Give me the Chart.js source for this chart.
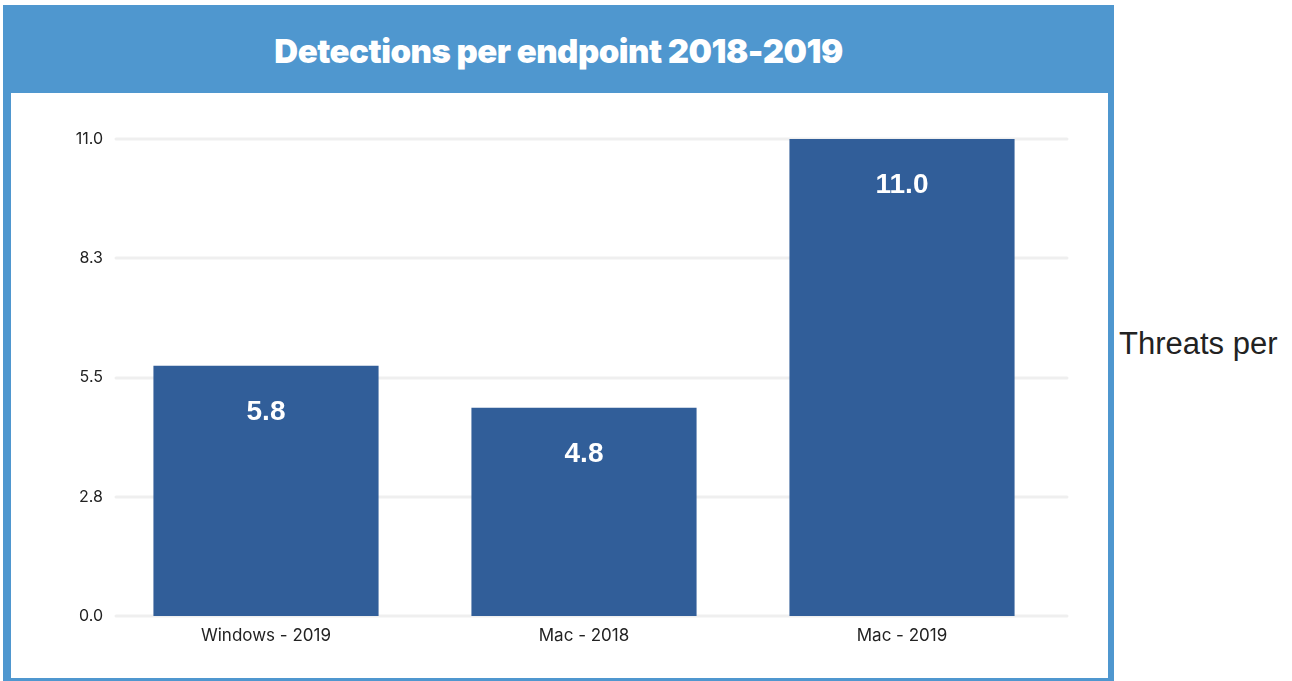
<!DOCTYPE html>
<html>
<head>
<meta charset="utf-8">
<script src="https://cdn.jsdelivr.net/npm/chart.js@4"></script>
<style>
  body { margin: 0; background: #fff; width: 1292px; height: 681px; overflow: hidden; position: relative; }
  .frame { position: absolute; left: 3px; top: 5px; width: 1111px; height: 690px; background: #4f97cf; }
  .frame h1 {
    margin: 0; height: 88px; line-height: 92px; text-align: center; color: #fff;
    font-family: Inter, sans-serif; font-weight: 900; font-size: 33px; letter-spacing: -0.5px;
  }
  .panel { position: absolute; left: 8px; top: 88px; width: 1097px; height: 585px; background: #fff; }
  .side { position: absolute; left: 1119px; top: 328px; font-family: "Liberation Sans", Arial, sans-serif; font-size: 31px; line-height: 31px; color: #222; white-space: nowrap; }
</style>
</head>
<body>
<div class="frame">
  <h1>Detections per endpoint 2018-2019</h1>
  <div class="panel"><canvas id="detChart" width="1097" height="585"></canvas></div>
</div>
<span class="side">Threats per</span>

<script>
// chart data
const categories = ['Windows - 2019', 'Mac - 2018', 'Mac - 2019'];
const detections = [5.77, 4.8, 11.0];
const yTicks = [0, 2.75, 5.5, 8.25, 11];

const barColor = '#315e99';

// light horizontal grid lines, drawn a bit offset from the plot area like the original
const gridLines = {
    id: 'gridLines',
    beforeDatasetsDraw(chart) {
        const { ctx, chartArea, scales } = chart;
        ctx.save();
        ctx.strokeStyle = '#efefef';
        ctx.lineWidth = 3;
        ctx.lineCap = 'round';
        yTicks.forEach(v => {
            const y = Math.round(scales.y.getPixelForValue(v));
            ctx.beginPath();
            ctx.moveTo(chartArea.left + 9, y);
            ctx.lineTo(chartArea.right + 6, y);
            ctx.stroke();
        });
        ctx.restore();
    }
};

// value labels inside the top of each bar
const barLabels = {
    id: 'barLabels',
    afterDatasetsDraw(chart) {
        const { ctx, data } = chart;
        ctx.save();
        ctx.font = 'bold 28px "Liberation Sans", Arial, sans-serif';
        ctx.fillStyle = '#ffffff';
        ctx.textAlign = 'center';
        ctx.textBaseline = 'middle';
        chart.getDatasetMeta(0).data.forEach((bar, i) => {
            ctx.fillText(data.datasets[0].data[i].toFixed(1), bar.x, bar.y + 46);
        });
        ctx.restore();
    }
};

new Chart(document.getElementById('detChart'), {
    type: 'bar',
    data: {
        labels: categories,
        datasets: [{
            data: detections,
            backgroundColor: barColor,
            categoryPercentage: 1,
            barPercentage: 0.708
        }]
    },
    options: {
        responsive: false,
        animation: false,
        layout: { padding: { top: 46, right: 47, left: 0, bottom: 0 } },
        plugins: { legend: { display: false }, tooltip: { enabled: false } },
        scales: {
            y: {
                min: 0,
                max: 11,
                afterFit(scale) { scale.width = 96; },
                afterBuildTicks(scale) { scale.ticks = yTicks.map(v => ({ value: v })); },
                ticks: {
                    padding: 4,
                    color: '#222',
                    font: { family: 'Inter', size: 16 },
                    callback: v => Number(v).toFixed(1)
                },
                grid: { display: false, drawTicks: false },
                border: { display: false }
            },
            x: {
                afterFit(scale) { scale.height = 62; },
                ticks: {
                    padding: 10,
                    color: '#222',
                    font: { family: 'Inter', size: 17 }
                },
                grid: { display: false, drawTicks: false },
                border: { display: false }
            }
        }
    },
    plugins: [gridLines, barLabels]
});
</script>
</body>
</html>
